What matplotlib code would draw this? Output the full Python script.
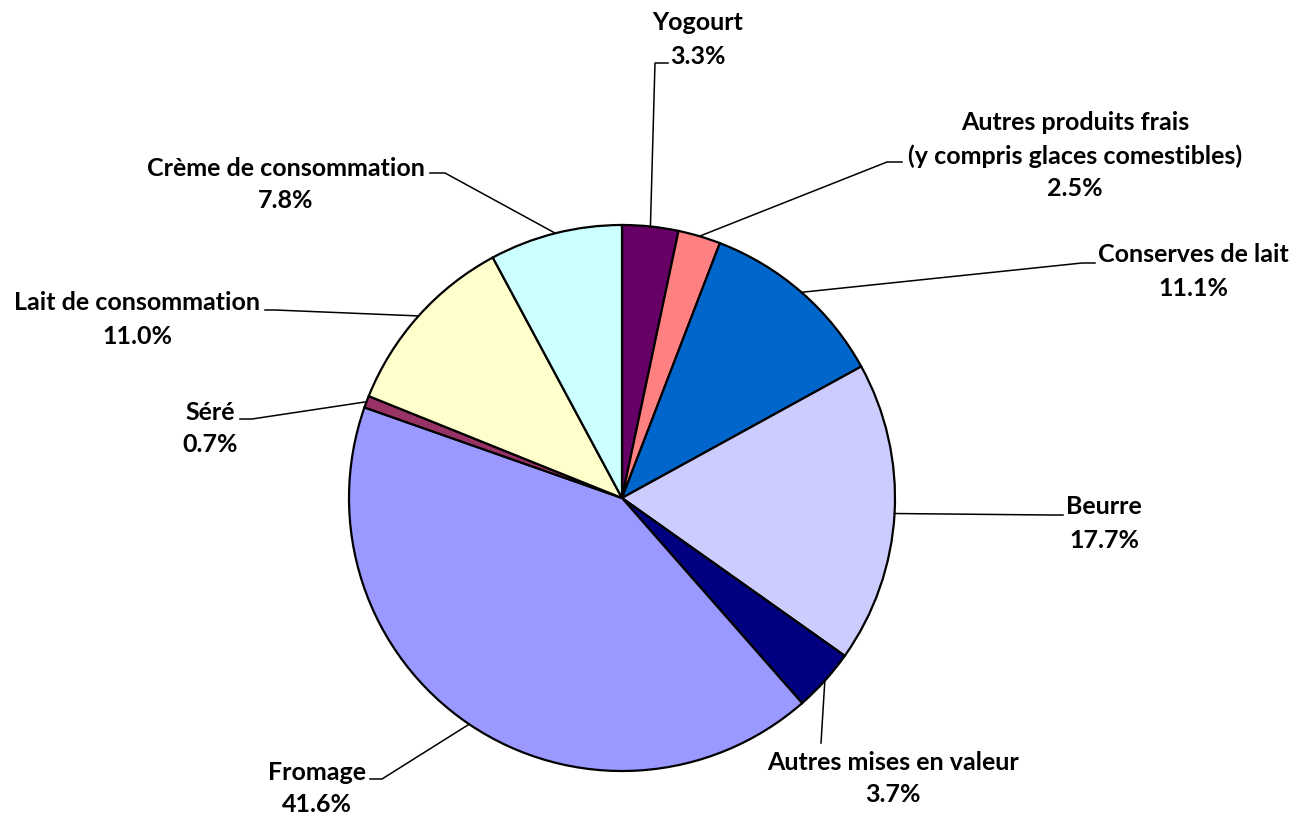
import numpy as np
import matplotlib
matplotlib.use('Agg')
import matplotlib.pyplot as plt

# data (clockwise from 12 o'clock)
names = ['Yogourt', 'Autres produits frais\n(y compris glaces comestibles)', 'Conserves de lait',
         'Beurre', 'Autres mises en valeur', 'Fromage', 'Séré',
         'Lait de consommation', 'Crème de consommation']
shares = [3.3, 2.5, 11.1, 17.7, 3.7, 41.6, 0.7, 11.0, 7.8]
colors = ['#660066', '#FF8080', '#0066CC', '#CCCCFF', '#000080',
          '#9999FF', '#993366', '#FFFFCC', '#CCFFFF']

# layout in pixels from top-left of the 1292x816 image
W, H = 1292, 816
cx, cy, R = 622, 498, 273
# centre of label block (x, y of first line)
lab_pos = [(698, 23), (1075, 123), (1193, 255), (1104, 507), (893, 762),
           (317, 772), (210, 412), (137, 303), (286, 168)]
line_h = 33
# leader start (near text) and elbow
lead = [[(668, 63), (655, 63)], [(902, 162), (887, 162)], [(1095, 263), (1082, 263)],
        [(1063, 515), (1050, 515)], [(821, 743)], [(370, 779), (382, 779)],
        [(240, 419), (252, 419)], [(265, 310), (275, 310)], [(430, 173), (445, 173)]]

def yy(p):
    return H - p

fig = plt.figure(figsize=(W / 100, H / 100), dpi=100)
ax = fig.add_axes([0, 0, 1, 1])
wedges, _ = ax.pie(shares, colors=colors, startangle=90, counterclock=False,
                   center=(cx, yy(cy)), radius=R,
                   wedgeprops=dict(edgecolor='black', linewidth=1.6))
ax.set_xlim(0, W)
ax.set_ylim(0, H)
ax.set_aspect('equal')
ax.axis('off')

font = dict(family=['Lato', 'DejaVu Sans'], fontweight='bold', fontsize=18, color='black')
for i, w in enumerate(wedges):
    mid = np.deg2rad((w.theta1 + w.theta2) / 2)
    ex, ey = cx + R * np.cos(mid), yy(cy) + R * np.sin(mid)
    pts = [(x, yy(y)) for x, y in lead[i]] + [(ex, ey)]
    ax.plot([p[0] for p in pts], [p[1] for p in pts], color='black', lw=1.1)
    lines = names[i].split('\n') + ['%.1f%%' % shares[i]]
    x0, y0 = lab_pos[i]
    for k, t in enumerate(lines):
        ax.text(x0, yy(y0 + k * line_h), t, ha='center', va='center', **font)

fig.savefig('out.png', dpi=100)
